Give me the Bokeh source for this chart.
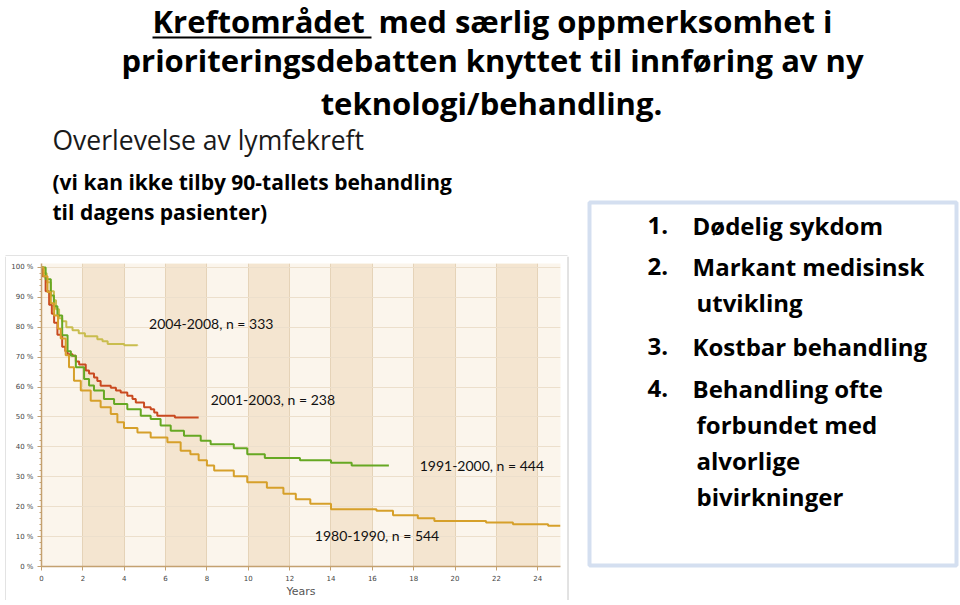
from bokeh.plotting import figure
from bokeh.models import Label, FixedTicker, Range1d
from bokeh.layouts import column, row
from bokeh.core.properties import value
from bokeh.embed import file_html
from bokeh.resources import INLINE

# ---------------- data ----------------
t_2004_2008 = [0, 0.1, 0.25, 0.45, 0.6, 0.7, 0.85, 1.0, 1.2, 1.5, 1.8, 2.1, 2.7, 2.95, 3.2, 4.0, 4.64]
s_2004_2008 = [100, 98, 95, 92, 89, 86, 83, 82, 80, 79, 78, 77, 76, 75.3, 74.4, 74.0, 73.9]

t_2001_2003 = [0, 0.05, 0.2, 0.37, 0.5, 0.61, 0.77, 1.0, 1.15, 1.26, 1.5, 1.66, 1.82, 2.14, 2.3,
               2.54, 2.7, 2.86, 3.35, 3.6, 3.83, 4.15, 4.4, 4.56, 4.96, 5.28, 5.45, 5.6, 6.45, 7.6]
s_2001_2003 = [100, 97, 92, 87.5, 84.5, 81.5, 77.5, 73.5, 72, 71, 70.5, 68.5, 67.5, 65.5, 64.5,
               63.2, 62, 60.4, 59.8, 58.8, 58.2, 57.1, 56, 54.8, 53.2, 52.6, 51.5, 50.4, 49.8, 49.8]

t_1991_2000 = [0, 0.2, 0.45, 0.6, 0.77, 1.0, 1.26, 1.42, 1.66, 2.06, 2.3, 2.54, 3.02, 3.51, 4.15,
               4.8, 5.28, 5.76, 6.25, 6.89, 7.7, 8.18, 9.3, 9.95, 10.8, 12.5, 14.0, 15.0, 16.8]
s_1991_2000 = [100, 96, 90.6, 87, 83.9, 77.3, 72, 70.5, 66.6, 62.7, 60.5, 58.8, 56, 54.3, 52.6,
               50.4, 49.3, 47.1, 45.4, 43.7, 42, 40.9, 39.5, 37.5, 36.3, 35.5, 34.7, 33.8, 33.8]

t_1980_1990 = [0, 0.1, 0.29, 0.45, 0.61, 0.8, 0.93, 1.17, 1.33, 1.57, 1.9, 2.38, 2.86, 3.35, 3.67,
               3.99, 4.64, 5.28, 6.09, 6.73, 7.2, 7.6, 8.0, 8.35, 9.3, 9.95, 10.9, 11.7, 12.3, 13.0,
               14.0, 16.2, 17.0, 18.2, 19.0, 21.5, 22.8, 24.5, 25.1]
s_1980_1990 = [100, 97, 91.8, 88, 83.9, 79.5, 76.2, 70.6, 66.6, 62.1, 58.8, 55.4, 53.2, 51, 48.2,
               46.3, 44.8, 43.1, 41.5, 38.7, 37.5, 35.5, 33.8, 32.1, 30.2, 28.2, 26.3, 24.3, 22.5, 21,
               19.1, 18.6, 17.1, 16.1, 15.2, 14.7, 14.1, 13.6, 13.6]

series_labels = ["2004-2008, n = 333", "2001-2003, n = 238", "1991-2000, n = 444", "1980-1990, n = 544"]
series_colors = ["#c9bd4e", "#c94a20", "#66a823", "#d6a02a"]

x_ticks = [0, 2, 4, 6, 8, 10, 12, 14, 16, 18, 20, 22, 24]
y_ticks = [0, 10, 20, 30, 40, 50, 60, 70, 80, 90, 100]
y_tick_labels = ["0 %", "10 %", "20 %", "30 %", "40 %", "50 %", "60 %", "70 %", "80 %", "90 %", "100 %"]
x_axis_label = "Years"

title_first = "Kreftområdet"
title_first_rest = "med særlig oppmerksomhet i"
title_line2 = "prioriteringsdebatten knyttet til innføring av ny"
title_line3 = "teknologi/behandling."
subtitle = "Overlevelse av lymfekreft"
note_lines = ["(vi kan ikke tilby 90-tallets behandling", "til dagens pasienter)"]
box_numbers = ["1.", "2.", "3.", "4."]
box_items = [["Dødelig sykdom"], ["Markant medisinsk", "utvikling"], ["Kostbar behandling"],
             ["Behandling ofte", "forbundet med", "alvorlige", "bivirkninger"]]

HEAD_FONT = "Open Sans"
LABEL_FONT = "Lato"
TOP_H = 199          # height of the heading strip
NOTE_H = 57          # strip above the chart
CHART_H = 344
LEFT_W = 575
RIGHT_W = 385
BORDER_COL = "#c6c6c6"


def pixel_fig(w, h):
    f = figure(width=w, height=h, x_range=Range1d(0, w), y_range=Range1d(h, 0),
               output_backend="svg", toolbar_location=None, min_border=0, frame_align=False,
               x_axis_location=None, y_axis_location=None,
               background_fill_color="white", border_fill_color="white", outline_line_color=None)
    f.grid.visible = False
    return f


def txt(f, x, baseline, text, size, bold=False, align="left", color="#000000", dy=0):
    # the text glyph is anchored at the middle of the em box
    f.text(x=[x], y=[baseline - dy - 0.388 * size], text=[text], text_font=value(HEAD_FONT),
           text_font_size=f"{size}px", text_font_style="bold" if bold else "normal",
           text_align=align, text_baseline="middle", text_color=color)


# ---------------- heading ----------------
top = pixel_fig(960, TOP_H)
txt(top, 152, 32.5, title_first, 31, bold=True)
txt(top, 832, 32.5, title_first_rest, 31, bold=True, align="right")
top.segment(x0=[152], y0=[37], x1=[371], y1=[37], line_color="black", line_width=2)
txt(top, 492, 72, title_line2, 31, bold=True, align="center")
txt(top, 491, 115, title_line3, 31, bold=True, align="center")
txt(top, 52, 150, subtitle, 26.5, color="#1a1a1a")
txt(top, 52, 190, note_lines[0], 21, bold=True)

# ---------------- strip above chart ----------------
note = pixel_fig(LEFT_W, NOTE_H)
txt(note, 52, 220, note_lines[1], 21, bold=True, dy=TOP_H)
note.segment(x0=[5], y0=[NOTE_H - 0.5], x1=[567], y1=[NOTE_H - 0.5], line_color=BORDER_COL, line_width=1)

# ---------------- chart ----------------
p = figure(width=560, height=CHART_H, x_range=Range1d(0, 25.1), y_range=Range1d(0, 101.3),
           output_backend="svg", toolbar_location=None, frame_align=False,
           min_border_left=35, min_border_right=6, min_border_top=7, min_border_bottom=34,
           background_fill_color="#fbf5ec", border_fill_color="white", outline_line_color=None)

p.xgrid.ticker = FixedTicker(ticks=x_ticks)
p.ygrid.ticker = FixedTicker(ticks=y_ticks)
p.xgrid.grid_line_color = "#e5d3b8"
p.ygrid.grid_line_color = "#ecdfcc"
p.xgrid.band_fill_color = "#f4e5d0"
p.xgrid.band_fill_alpha = 1.0

axis_col = "#c4a170"
p.xaxis.ticker = FixedTicker(ticks=x_ticks)
p.xaxis.axis_label = x_axis_label
p.xaxis.axis_label_text_font = "DejaVu Sans"
p.xaxis.axis_label_text_font_size = "11px"
p.xaxis.axis_label_text_font_style = "normal"
p.xaxis.axis_label_text_color = "#555555"
p.xaxis.axis_label_standoff = 1
p.xaxis.minor_tick_line_color = None
p.yaxis.ticker = FixedTicker(ticks=y_ticks, minor_ticks=list(range(0, 101, 2)))
p.yaxis.major_label_overrides = dict(zip(y_ticks, y_tick_labels))
for ax in (p.xaxis, p.yaxis):
    ax.axis_line_color = axis_col
    ax.axis_line_width = 1.5
    ax.major_tick_line_color = axis_col
    ax.major_tick_in = 0
    ax.major_tick_out = 4
    ax.major_label_text_font = "DejaVu Sans"
    ax.major_label_text_font_size = "7px"
    ax.major_label_text_color = "#444444"
    ax.major_label_standoff = 4
p.yaxis.minor_tick_line_color = axis_col
p.yaxis.minor_tick_in = 0
p.yaxis.minor_tick_out = 2

curves = [(t_2004_2008, s_2004_2008), (t_2001_2003, s_2001_2003),
          (t_1991_2000, s_1991_2000), (t_1980_1990, s_1980_1990)]
for (t, s), col in zip(curves, series_colors):
    p.step(t, s, mode="after", line_color=col, line_width=2)

label_pos = [(5.2, 81.1), (8.18, 55.8), (18.29, 33.7), (13.22, 10.3)]
for text, (lx, ly) in zip(series_labels, label_pos):
    p.add_layout(Label(x=lx, y=ly, text=text, text_font=LABEL_FONT, text_font_size="14px",
                       text_baseline="middle", text_align="left", text_color="#111111"))

# thin frame around the chart picture
lstrip = pixel_fig(6, CHART_H)
lstrip.segment(x0=[5.5], y0=[0], x1=[5.5], y1=[CHART_H], line_color=BORDER_COL, line_width=1)
rstrip = pixel_fig(LEFT_W - 566, CHART_H)
rstrip.segment(x0=[1.5], y0=[0], x1=[1.5], y1=[CHART_H], line_color=BORDER_COL, line_width=1)
bstrip = pixel_fig(LEFT_W, 605 - TOP_H - NOTE_H - CHART_H)
bstrip.segment(x0=[5], y0=[0.5], x1=[567], y1=[0.5], line_color=BORDER_COL, line_width=1)

# ---------------- right box ----------------
box_h = 605 - TOP_H
box = pixel_fig(RIGHT_W, box_h)
box.quad(left=[14], right=[381], top=[202 - TOP_H], bottom=[565 - TOP_H], fill_color="white",
         line_color="#d4dff0", line_width=4)
num_baselines = [234, 275, 355, 397]
cont_step = 36
for num, items, yb in zip(box_numbers, box_items, num_baselines):
    txt(box, 647 - LEFT_W, yb, num, 24, bold=True, dy=TOP_H)
    for i, line in enumerate(items):
        txt(box, (692 if i == 0 else 696) - LEFT_W, yb + i * cont_step, line, 24, bold=True, dy=TOP_H)

layout = column(top, row(column(note, row(lstrip, p, rstrip), bstrip), box))
open("out.html", "w").write(file_html(layout, INLINE))
